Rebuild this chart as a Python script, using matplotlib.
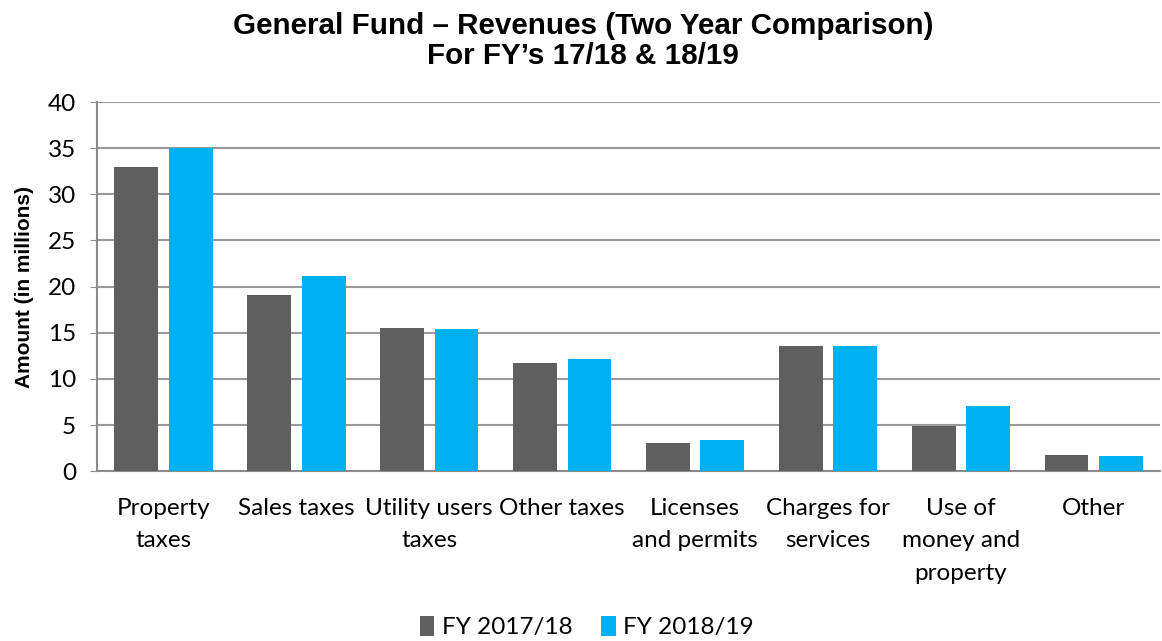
import numpy as np
import matplotlib.pyplot as plt

categories = ['Property\ntaxes', 'Sales taxes', 'Utility users\ntaxes', 'Other taxes',
              'Licenses\nand permits', 'Charges for\nservices', 'Use of\nmoney and\nproperty', 'Other']
fy_1718 = [33.0, 19.1, 15.5, 11.7, 3.0, 13.6, 4.9, 1.8]
fy_1819 = [35.0, 21.1, 15.4, 12.2, 3.4, 13.6, 7.1, 1.6]
series_names = ['FY 2017/18', 'FY 2018/19']
colors = ['#5f5f5f', '#00b0f0']

body_font = ['Lato', 'DejaVu Sans']

fig = plt.figure(figsize=(11.62, 6.41), dpi=100)
ax = fig.add_axes([0.0835, 0.265, 0.915, 0.5757])

x = np.arange(len(categories))
w = 0.33
ax.bar(x - 0.205, fy_1718, w, color=colors[0], label=series_names[0], zorder=3)
ax.bar(x + 0.205, fy_1819, w, color=colors[1], label=series_names[1], zorder=3)

ax.set_xlim(-0.5, len(categories) - 0.5)
ax.set_ylim(0, 40)
ax.set_yticks(range(0, 41, 5))
ax.yaxis.grid(True, color='#9a9a9a', linewidth=1.5, zorder=0)
ax.set_axisbelow(True)

for s in ['top', 'right']:
    ax.spines[s].set_visible(False)
for s in ['left', 'bottom']:
    ax.spines[s].set_color('#8c8c8c')
    ax.spines[s].set_linewidth(1.5)

ax.set_xticks(x)
ax.set_xticklabels(categories, family=body_font, fontsize=17.5, linespacing=1.68)
ax.tick_params(axis='x', length=0, pad=19)
ax.tick_params(axis='y', length=5, color='#8c8c8c', pad=10)
for lbl in ax.get_yticklabels():
    lbl.set_family(body_font)
    lbl.set_fontsize(17.5)

ax.set_ylabel('Amount (in millions)', fontsize=15, fontweight='bold', family='Liberation Sans', labelpad=10)

fig.suptitle('General Fund \u2013 Revenues (Two Year Comparison)\nFor FY\u2019s 17/18 & 18/19',
             x=0.502, y=0.982, fontsize=21.3, fontweight='bold', family='Liberation Sans', linespacing=1.1)

fig.legend(loc='center', bbox_to_anchor=(0.505, 0.022), ncol=2, frameon=False,
           prop={'family': body_font, 'size': 17.5}, handlelength=0.6, handleheight=0.9,
           handletextpad=0.3, columnspacing=1.2)

fig.savefig('out.png', dpi=100)
